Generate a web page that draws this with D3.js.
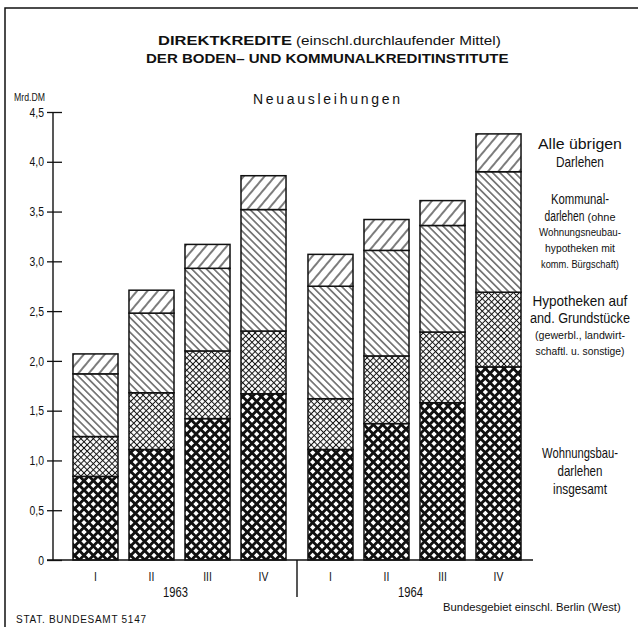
<!DOCTYPE html>
<html>
<head>
<meta charset="utf-8">
<script src="https://cdn.jsdelivr.net/npm/d3@7"></script>
<style>
  body { margin: 0; background: #fff; }
  svg { display: block; }
  text { font-family: "Liberation Sans", Arial, sans-serif; fill: #111; }
</style>
</head>
<body>
<div id="chart"></div>
<script>
// Neuausleihungen in Mrd. DM, je Quartal (1963 I-IV, 1964 I-IV)
const years = ['1963', '1964'];
const quarters = ['I', 'II', 'III', 'IV'];
const wohnungsbau = [0.84, 1.11, 1.42, 1.67, 1.11, 1.37, 1.58, 1.94];
const hypotheken = [0.40, 0.57, 0.68, 0.63, 0.51, 0.68, 0.71, 0.75];
const kommunal = [0.63, 0.80, 0.83, 1.22, 1.13, 1.06, 1.07, 1.21];
const uebrige = [0.20, 0.23, 0.24, 0.34, 0.32, 0.31, 0.25, 0.38];
const yTicks = [0, 0.5, 1, 1.5, 2, 2.5, 3, 3.5, 4, 4.5];

const keys = ['wohnungsbau', 'hypotheken', 'kommunal', 'uebrige'];

// legend lines: text, font size, baseline, width
const legendLines = [
  ['Alle übrigen', 14, 149, 84], ['Darlehen', 14, 167, 48],
  ['Kommunal-', 14, 204, 58], ['darlehen', 14, 221, 40], ['(ohne', 10, 221, 28],
  ['Wohnungsneubau-', 10, 236, 82], ['hypotheken mit', 10, 252, 70], ['komm. Bürgschaft)', 10, 268, 78],
  ['Hypotheken auf', 14, 306, 95], ['and. Grundstücke', 14, 323, 100],
  ['(gewerbl., landwirt-', 10, 339, 90], ['schaftl. u. sonstige)', 10, 355, 89],
  ['Wohnungsbau-', 14, 458, 76], ['darlehen', 14, 476, 45], ['insgesamt', 14, 494, 54]
];

const width = 638;
const height = 627;
const axisX = 53;
const squeeze = 0.8;   // condensed typeface look

const rows = [];
years.forEach((yr, yi) => {
  quarters.forEach((q, qi) => {
    const i = yi * 4 + qi;
    rows.push({
      year: yr, quarter: q,
      wohnungsbau: wohnungsbau[i], hypotheken: hypotheken[i],
      kommunal: kommunal[i], uebrige: uebrige[i]
    });
  });
});

const svg = d3.select('#chart').append('svg')
    .attr('width', width)
    .attr('height', height);

// text squeezed horizontally to a given width, x = left edge
function fitText(parent, str, x, y, size, w, bold) {
  const t = parent.append('text')
      .attr('font-size', size)
      .attr('font-weight', bold ? 'bold' : null)
      .text(str);
  const k = w / t.node().getComputedTextLength();
  t.attr('transform', `translate(${x},${y}) scale(${k},1)`);
  return t;
}

// patterns
const defs = svg.append('defs');
function hatch(id, size, angle, stroke, cross) {
  const p = defs.append('pattern')
      .attr('id', id)
      .attr('patternUnits', 'userSpaceOnUse')
      .attr('width', size)
      .attr('height', size)
      .attr('patternTransform', `rotate(${angle})`);
  p.append('rect').attr('width', size).attr('height', size).attr('fill', '#fff');
  p.append('line')
      .attr('x1', size / 2).attr('x2', size / 2)
      .attr('y1', -1).attr('y2', size + 1)
      .attr('stroke', '#111').attr('stroke-width', stroke);
  if (cross) {
    p.append('line')
        .attr('y1', size / 2).attr('y2', size / 2)
        .attr('x1', -1).attr('x2', size + 1)
        .attr('stroke', '#111').attr('stroke-width', stroke);
  }
}
hatch('p-wohnungsbau', 6.6, 45, 2.8, true);
hatch('p-hypotheken', 4.4, 45, 1, true);
hatch('p-kommunal', 5.2, -45, 1, false);
hatch('p-uebrige', 8, 40, 1.1, false);

// scales
const x0 = d3.scaleBand().domain(years).range([62, 532]);
const x1 = d3.scaleBand().domain(quarters).range([0, x0.bandwidth()])
    .paddingInner(0.196).paddingOuter(0.196);
const y = d3.scaleLinear().domain([0, 4.5]).range([560, 112]);

const stack = d3.stack().keys(keys)(rows);

// frame
svg.append('path')
    .attr('d', `M5,${height} V8 H${width}`)
    .attr('fill', 'none')
    .attr('stroke', '#111')
    .attr('stroke-width', 1.5);

// titles
fitText(svg, 'DIREKTKREDITE', 158, 45, 13, 134, true);
fitText(svg, '(einschl.durchlaufender Mittel)', 296, 45, 13, 205);
fitText(svg, 'DER BODEN– UND KOMMUNALKREDITINSTITUTE', 146, 63, 13, 363, true);

svg.append('text')
    .attr('x', 253).attr('y', 104)
    .attr('font-size', 14)
    .attr('textLength', 147).attr('lengthAdjust', 'spacing')
    .text('Neuausleihungen');

fitText(svg, 'Mrd.DM', 14, 101, 11, 31);

// bars
const layer = svg.append('g').selectAll('g')
  .data(stack)
  .join('g')
    .attr('fill', d => `url(#p-${d.key})`);

layer.selectAll('rect')
  .data(d => d)
  .join('rect')
    .attr('x', d => x0(d.data.year) + x1(d.data.quarter))
    .attr('y', d => y(d[1]))
    .attr('width', x1.bandwidth())
    .attr('height', d => y(d[0]) - y(d[1]))
    .attr('stroke', '#111')
    .attr('stroke-width', 1.5);

// y axis
const yAxis = d3.axisLeft(y)
    .tickValues(yTicks)
    .tickFormat(d => (d === 0 ? '0' : d3.format('.1f')(d).replace('.', ',')))
    .tickSize(6)
    .tickPadding(3);

const gy = svg.append('g')
    .attr('transform', `translate(${axisX},0)`)
    .call(yAxis);
gy.select('.domain').remove();
gy.selectAll('.tick line')
    .attr('x1', 9)
    .attr('stroke', '#111')
    .attr('stroke-width', 1.3);
gy.selectAll('.tick text')
    .attr('font-size', 13)
    .attr('fill', '#111')
    .attr('font-family', null)
    .attr('x', -9 / squeeze)
    .attr('transform', `scale(${squeeze},1)`);

svg.append('line')
    .attr('x1', axisX).attr('x2', axisX)
    .attr('y1', y(4.5)).attr('y2', y(0))
    .attr('stroke', '#111').attr('stroke-width', 1.4);

svg.append('line')
    .attr('x1', axisX - 6).attr('x2', x0.range()[1] + 1)
    .attr('y1', y(0)).attr('y2', y(0))
    .attr('stroke', '#111').attr('stroke-width', 1.4);

// year divider
svg.append('line')
    .attr('x1', x0('1964')).attr('x2', x0('1964'))
    .attr('y1', y(0)).attr('y2', 597)
    .attr('stroke', '#111').attr('stroke-width', 1.4);

// quarter and year labels
svg.append('g').selectAll('text')
  .data(rows)
  .join('text')
    .attr('transform', d => `translate(${x0(d.year) + x1(d.quarter) + x1.bandwidth() / 2},581) scale(${squeeze},1)`)
    .attr('text-anchor', 'middle')
    .attr('font-size', 13)
    .text(d => d.quarter);

svg.append('g').selectAll('text')
  .data(years)
  .join('text')
    .attr('transform', d => `translate(${x0(d) + x0.bandwidth() / 2 - 4},597) scale(${squeeze},1)`)
    .attr('text-anchor', 'middle')
    .attr('font-size', 14)
    .text(d => d);

// legend text on the right; "darlehen (ohne" is one line made of two sizes
const legend = svg.append('g');
legendLines.forEach((l, i) => {
  let left = 580 - l[3] / 2;
  if (l[0] === 'darlehen' && legendLines[i + 1] && legendLines[i + 1][0] === '(ohne') {
    left = 580 - (l[3] + 3 + legendLines[i + 1][3]) / 2;
  } else if (l[0] === '(ohne') {
    const prev = legendLines[i - 1];
    left = 580 - (prev[3] + 3 + l[3]) / 2 + prev[3] + 3;
  }
  fitText(legend, l[0], left, l[2], l[1], l[3]);
});

// footer
fitText(svg, 'Bundesgebiet einschl. Berlin (West)', 443, 611, 11, 178);

svg.append('text')
    .attr('x', 16).attr('y', 623)
    .attr('font-size', 10)
    .attr('textLength', 130).attr('lengthAdjust', 'spacing')
    .text('STAT. BUNDESAMT 5147');
</script>
</body>
</html>
